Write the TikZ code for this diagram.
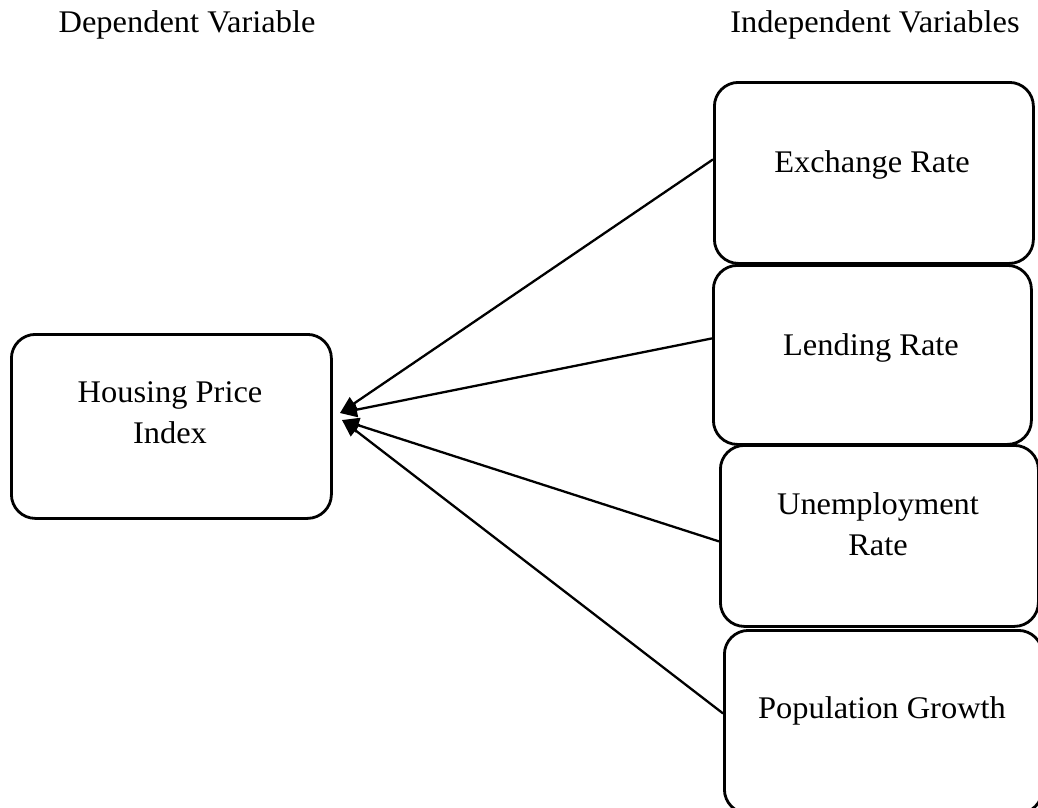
\documentclass[tikz,border=0pt]{standalone}
\usepackage{fontspec}
\setmainfont{Liberation Serif}[FakeStretch=1.03]
\usetikzlibrary{arrows.meta}
\begin{document}
\begin{tikzpicture}[x=1pt,y=-1pt,
  box/.style={draw, line width=2.8pt, rounded corners=24pt, inner sep=0pt, anchor=north west},
  lbl/.style={font=\fontsize{31.5}{41}\selectfont, align=center, anchor=base, inner sep=0pt},
  arr/.style={line width=2.3pt, -{Triangle[length=17pt,width=15pt]}}]
\clip (0,0) rectangle (1038,807);
\fill[white] (0,0) rectangle (1038,807);
% headers
\node[lbl] (dep) at (187,32) {Dependent Variable};
\node[lbl] (indep) at (875,32) {Independent Variables};
% boxes
\node[box, minimum width=320pt, minimum height=184pt] (hpi) at (10,333) {};
\node[box, minimum width=319pt, minimum height=181pt] (ex) at (713,81) {};
\node[box, minimum width=318pt, minimum height=179pt] (lend) at (712,264) {};
\node[box, minimum width=318pt, minimum height=181pt] (unemp) at (719,444) {};
\node[box, minimum width=318pt, minimum height=183pt] (pop) at (723,629) {};
% texts (base = baseline of last line)
\node[lbl] (hpit) at (170,443) {Housing Price\\Index};
\node[lbl] (ext) at (872,172) {Exchange Rate};
\node[lbl] (lendt) at (871,355) {Lending Rate};
\node[lbl] (unempt) at (878,555) {Unemployment\\Rate};
\node[lbl] (popt) at (882,718) {Population Growth};
% arrows
\coordinate (tipa) at (340,413);
\coordinate (tipb) at (342,420);
\draw[arr] ([yshift=13.5pt]ex.west) -- (tipa);
\draw[arr] ([yshift=16.5pt]lend.west) -- (tipa);
\draw[arr] ([yshift=-5.5pt]unemp.west) -- (tipb);
\draw[arr] ([yshift=8.5pt]pop.west) -- (tipb);
\end{tikzpicture}
\end{document}
